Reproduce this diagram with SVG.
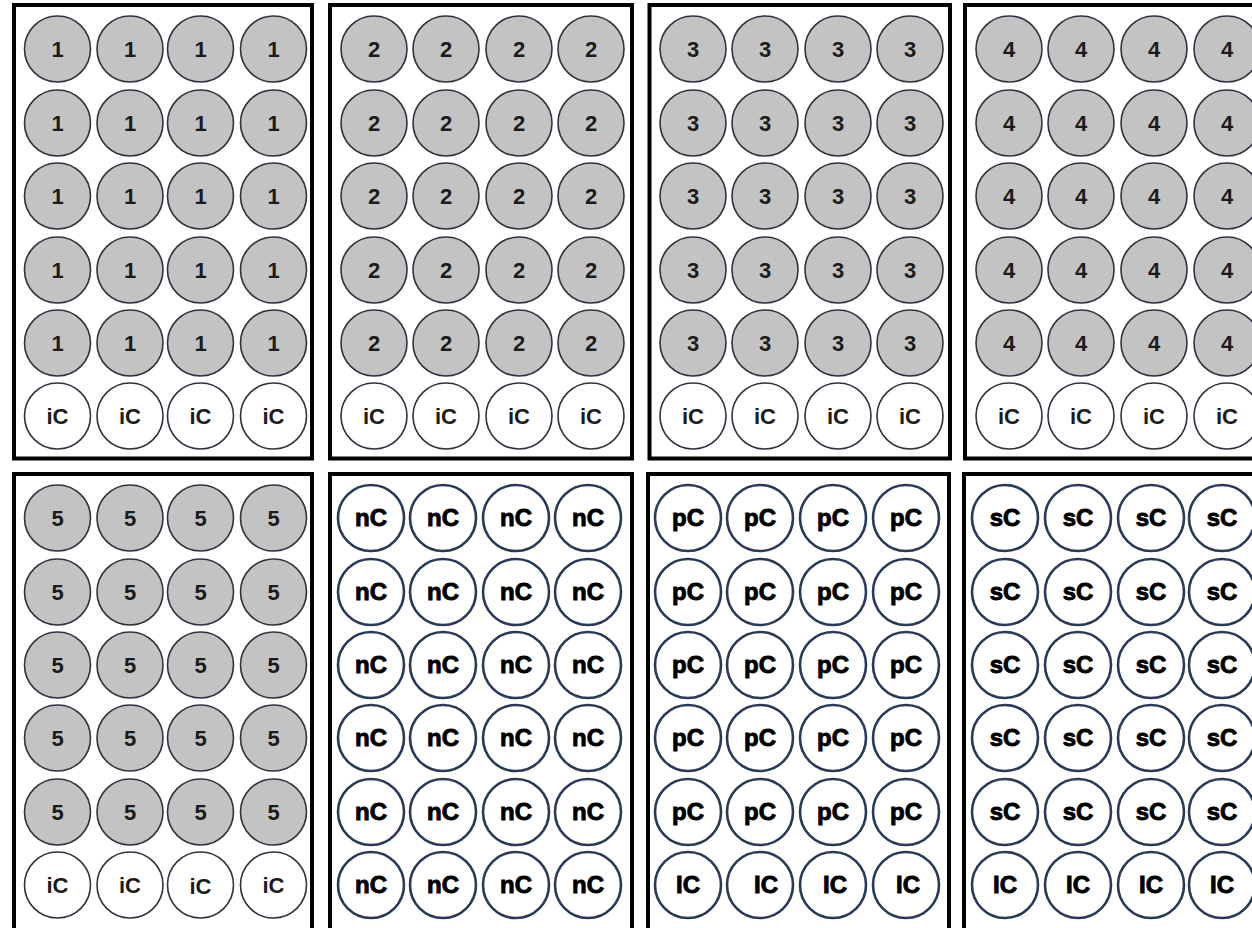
<svg xmlns="http://www.w3.org/2000/svg" width="1252" height="928" viewBox="0 0 1252 928">
<style>
.frame{fill:none;stroke:#000;stroke-width:4}
.gw{fill:#c3c3c3;stroke:#2e3340;stroke-width:1.6}
.ww{fill:#fff;stroke:#2e3340;stroke-width:1.6}
.cw{fill:#fff;stroke:#283a58;stroke-width:2.6}
.t{font-family:"Liberation Sans",Arial,sans-serif;font-weight:bold;font-size:22px;fill:#1b1b1b;text-anchor:middle}
.h{font-family:"Liberation Sans",Arial,sans-serif;font-weight:bold;font-size:24px;fill:#000;stroke:#000;stroke-width:0.9;text-anchor:middle}
</style>
<rect width="1252" height="928" fill="#fff"/>

<g id="plate1">
<rect class="frame" x="14" y="5" width="298" height="453.5"/>
<g id="p1w1" transform="translate(57.5,49)"><circle r="33" class="gw"/><text y="8" class="t">1</text></g>
<g id="p1w2" transform="translate(130,49)"><circle r="33" class="gw"/><text y="8" class="t">1</text></g>
<g id="p1w3" transform="translate(200.5,49)"><circle r="33" class="gw"/><text y="8" class="t">1</text></g>
<g id="p1w4" transform="translate(273.5,49)"><circle r="33" class="gw"/><text y="8" class="t">1</text></g>
<g id="p1w5" transform="translate(57.5,123)"><circle r="33" class="gw"/><text y="8" class="t">1</text></g>
<g id="p1w6" transform="translate(130,123)"><circle r="33" class="gw"/><text y="8" class="t">1</text></g>
<g id="p1w7" transform="translate(200.5,123)"><circle r="33" class="gw"/><text y="8" class="t">1</text></g>
<g id="p1w8" transform="translate(273.5,123)"><circle r="33" class="gw"/><text y="8" class="t">1</text></g>
<g id="p1w9" transform="translate(57.5,196)"><circle r="33" class="gw"/><text y="8" class="t">1</text></g>
<g id="p1w10" transform="translate(130,196)"><circle r="33" class="gw"/><text y="8" class="t">1</text></g>
<g id="p1w11" transform="translate(200.5,196)"><circle r="33" class="gw"/><text y="8" class="t">1</text></g>
<g id="p1w12" transform="translate(273.5,196)"><circle r="33" class="gw"/><text y="8" class="t">1</text></g>
<g id="p1w13" transform="translate(57.5,270)"><circle r="33" class="gw"/><text y="8" class="t">1</text></g>
<g id="p1w14" transform="translate(130,270)"><circle r="33" class="gw"/><text y="8" class="t">1</text></g>
<g id="p1w15" transform="translate(200.5,270)"><circle r="33" class="gw"/><text y="8" class="t">1</text></g>
<g id="p1w16" transform="translate(273.5,270)"><circle r="33" class="gw"/><text y="8" class="t">1</text></g>
<g id="p1w17" transform="translate(57.5,343)"><circle r="33" class="gw"/><text y="8" class="t">1</text></g>
<g id="p1w18" transform="translate(130,343)"><circle r="33" class="gw"/><text y="8" class="t">1</text></g>
<g id="p1w19" transform="translate(200.5,343)"><circle r="33" class="gw"/><text y="8" class="t">1</text></g>
<g id="p1w20" transform="translate(273.5,343)"><circle r="33" class="gw"/><text y="8" class="t">1</text></g>
<g id="p1w21" transform="translate(57.5,416)"><circle r="33" class="ww"/><text y="8" class="t">iC</text></g>
<g id="p1w22" transform="translate(130,416)"><circle r="33" class="ww"/><text y="8" class="t">iC</text></g>
<g id="p1w23" transform="translate(200.5,416)"><circle r="33" class="ww"/><text y="8" class="t">iC</text></g>
<g id="p1w24" transform="translate(273.5,416)"><circle r="33" class="ww"/><text y="8" class="t">iC</text></g>
</g>

<g id="plate2">
<rect class="frame" x="330" y="5" width="302" height="453.5"/>
<g id="p2w1" transform="translate(374,49)"><circle r="33" class="gw"/><text y="8" class="t">2</text></g>
<g id="p2w2" transform="translate(446,49)"><circle r="33" class="gw"/><text y="8" class="t">2</text></g>
<g id="p2w3" transform="translate(519,49)"><circle r="33" class="gw"/><text y="8" class="t">2</text></g>
<g id="p2w4" transform="translate(591,49)"><circle r="33" class="gw"/><text y="8" class="t">2</text></g>
<g id="p2w5" transform="translate(374,123)"><circle r="33" class="gw"/><text y="8" class="t">2</text></g>
<g id="p2w6" transform="translate(446,123)"><circle r="33" class="gw"/><text y="8" class="t">2</text></g>
<g id="p2w7" transform="translate(519,123)"><circle r="33" class="gw"/><text y="8" class="t">2</text></g>
<g id="p2w8" transform="translate(591,123)"><circle r="33" class="gw"/><text y="8" class="t">2</text></g>
<g id="p2w9" transform="translate(374,196)"><circle r="33" class="gw"/><text y="8" class="t">2</text></g>
<g id="p2w10" transform="translate(446,196)"><circle r="33" class="gw"/><text y="8" class="t">2</text></g>
<g id="p2w11" transform="translate(519,196)"><circle r="33" class="gw"/><text y="8" class="t">2</text></g>
<g id="p2w12" transform="translate(591,196)"><circle r="33" class="gw"/><text y="8" class="t">2</text></g>
<g id="p2w13" transform="translate(374,270)"><circle r="33" class="gw"/><text y="8" class="t">2</text></g>
<g id="p2w14" transform="translate(446,270)"><circle r="33" class="gw"/><text y="8" class="t">2</text></g>
<g id="p2w15" transform="translate(519,270)"><circle r="33" class="gw"/><text y="8" class="t">2</text></g>
<g id="p2w16" transform="translate(591,270)"><circle r="33" class="gw"/><text y="8" class="t">2</text></g>
<g id="p2w17" transform="translate(374,343)"><circle r="33" class="gw"/><text y="8" class="t">2</text></g>
<g id="p2w18" transform="translate(446,343)"><circle r="33" class="gw"/><text y="8" class="t">2</text></g>
<g id="p2w19" transform="translate(519,343)"><circle r="33" class="gw"/><text y="8" class="t">2</text></g>
<g id="p2w20" transform="translate(591,343)"><circle r="33" class="gw"/><text y="8" class="t">2</text></g>
<g id="p2w21" transform="translate(374,416)"><circle r="33" class="ww"/><text y="8" class="t">iC</text></g>
<g id="p2w22" transform="translate(446,416)"><circle r="33" class="ww"/><text y="8" class="t">iC</text></g>
<g id="p2w23" transform="translate(519,416)"><circle r="33" class="ww"/><text y="8" class="t">iC</text></g>
<g id="p2w24" transform="translate(591,416)"><circle r="33" class="ww"/><text y="8" class="t">iC</text></g>
</g>

<g id="plate3">
<rect class="frame" x="649.5" y="5" width="300.5" height="453.5"/>
<g id="p3w1" transform="translate(693,49)"><circle r="33" class="gw"/><text y="8" class="t">3</text></g>
<g id="p3w2" transform="translate(765,49)"><circle r="33" class="gw"/><text y="8" class="t">3</text></g>
<g id="p3w3" transform="translate(838,49)"><circle r="33" class="gw"/><text y="8" class="t">3</text></g>
<g id="p3w4" transform="translate(910,49)"><circle r="33" class="gw"/><text y="8" class="t">3</text></g>
<g id="p3w5" transform="translate(693,123)"><circle r="33" class="gw"/><text y="8" class="t">3</text></g>
<g id="p3w6" transform="translate(765,123)"><circle r="33" class="gw"/><text y="8" class="t">3</text></g>
<g id="p3w7" transform="translate(838,123)"><circle r="33" class="gw"/><text y="8" class="t">3</text></g>
<g id="p3w8" transform="translate(910,123)"><circle r="33" class="gw"/><text y="8" class="t">3</text></g>
<g id="p3w9" transform="translate(693,196)"><circle r="33" class="gw"/><text y="8" class="t">3</text></g>
<g id="p3w10" transform="translate(765,196)"><circle r="33" class="gw"/><text y="8" class="t">3</text></g>
<g id="p3w11" transform="translate(838,196)"><circle r="33" class="gw"/><text y="8" class="t">3</text></g>
<g id="p3w12" transform="translate(910,196)"><circle r="33" class="gw"/><text y="8" class="t">3</text></g>
<g id="p3w13" transform="translate(693,270)"><circle r="33" class="gw"/><text y="8" class="t">3</text></g>
<g id="p3w14" transform="translate(765,270)"><circle r="33" class="gw"/><text y="8" class="t">3</text></g>
<g id="p3w15" transform="translate(838,270)"><circle r="33" class="gw"/><text y="8" class="t">3</text></g>
<g id="p3w16" transform="translate(910,270)"><circle r="33" class="gw"/><text y="8" class="t">3</text></g>
<g id="p3w17" transform="translate(693,343)"><circle r="33" class="gw"/><text y="8" class="t">3</text></g>
<g id="p3w18" transform="translate(765,343)"><circle r="33" class="gw"/><text y="8" class="t">3</text></g>
<g id="p3w19" transform="translate(838,343)"><circle r="33" class="gw"/><text y="8" class="t">3</text></g>
<g id="p3w20" transform="translate(910,343)"><circle r="33" class="gw"/><text y="8" class="t">3</text></g>
<g id="p3w21" transform="translate(693,416)"><circle r="33" class="ww"/><text y="8" class="t">iC</text></g>
<g id="p3w22" transform="translate(765,416)"><circle r="33" class="ww"/><text y="8" class="t">iC</text></g>
<g id="p3w23" transform="translate(838,416)"><circle r="33" class="ww"/><text y="8" class="t">iC</text></g>
<g id="p3w24" transform="translate(910,416)"><circle r="33" class="ww"/><text y="8" class="t">iC</text></g>
</g>

<g id="plate4">
<rect class="frame" x="965" y="5" width="300" height="453.5"/>
<g id="p4w1" transform="translate(1009,49)"><circle r="33" class="gw"/><text y="8" class="t">4</text></g>
<g id="p4w2" transform="translate(1081,49)"><circle r="33" class="gw"/><text y="8" class="t">4</text></g>
<g id="p4w3" transform="translate(1154,49)"><circle r="33" class="gw"/><text y="8" class="t">4</text></g>
<g id="p4w4" transform="translate(1227,49)"><circle r="33" class="gw"/><text y="8" class="t">4</text></g>
<g id="p4w5" transform="translate(1009,123)"><circle r="33" class="gw"/><text y="8" class="t">4</text></g>
<g id="p4w6" transform="translate(1081,123)"><circle r="33" class="gw"/><text y="8" class="t">4</text></g>
<g id="p4w7" transform="translate(1154,123)"><circle r="33" class="gw"/><text y="8" class="t">4</text></g>
<g id="p4w8" transform="translate(1227,123)"><circle r="33" class="gw"/><text y="8" class="t">4</text></g>
<g id="p4w9" transform="translate(1009,196)"><circle r="33" class="gw"/><text y="8" class="t">4</text></g>
<g id="p4w10" transform="translate(1081,196)"><circle r="33" class="gw"/><text y="8" class="t">4</text></g>
<g id="p4w11" transform="translate(1154,196)"><circle r="33" class="gw"/><text y="8" class="t">4</text></g>
<g id="p4w12" transform="translate(1227,196)"><circle r="33" class="gw"/><text y="8" class="t">4</text></g>
<g id="p4w13" transform="translate(1009,270)"><circle r="33" class="gw"/><text y="8" class="t">4</text></g>
<g id="p4w14" transform="translate(1081,270)"><circle r="33" class="gw"/><text y="8" class="t">4</text></g>
<g id="p4w15" transform="translate(1154,270)"><circle r="33" class="gw"/><text y="8" class="t">4</text></g>
<g id="p4w16" transform="translate(1227,270)"><circle r="33" class="gw"/><text y="8" class="t">4</text></g>
<g id="p4w17" transform="translate(1009,343)"><circle r="33" class="gw"/><text y="8" class="t">4</text></g>
<g id="p4w18" transform="translate(1081,343)"><circle r="33" class="gw"/><text y="8" class="t">4</text></g>
<g id="p4w19" transform="translate(1154,343)"><circle r="33" class="gw"/><text y="8" class="t">4</text></g>
<g id="p4w20" transform="translate(1227,343)"><circle r="33" class="gw"/><text y="8" class="t">4</text></g>
<g id="p4w21" transform="translate(1009,416)"><circle r="33" class="ww"/><text y="8" class="t">iC</text></g>
<g id="p4w22" transform="translate(1081,416)"><circle r="33" class="ww"/><text y="8" class="t">iC</text></g>
<g id="p4w23" transform="translate(1154,416)"><circle r="33" class="ww"/><text y="8" class="t">iC</text></g>
<g id="p4w24" transform="translate(1227,416)"><circle r="33" class="ww"/><text y="8" class="t">iC</text></g>
</g>

<g id="plate5">
<rect class="frame" x="14" y="474" width="298" height="470"/>
<g id="p5w1" transform="translate(57.5,518)"><circle r="33" class="gw"/><text y="8" class="t">5</text></g>
<g id="p5w2" transform="translate(130,518)"><circle r="33" class="gw"/><text y="8" class="t">5</text></g>
<g id="p5w3" transform="translate(200.5,518)"><circle r="33" class="gw"/><text y="8" class="t">5</text></g>
<g id="p5w4" transform="translate(273.5,518)"><circle r="33" class="gw"/><text y="8" class="t">5</text></g>
<g id="p5w5" transform="translate(57.5,592)"><circle r="33" class="gw"/><text y="8" class="t">5</text></g>
<g id="p5w6" transform="translate(130,592)"><circle r="33" class="gw"/><text y="8" class="t">5</text></g>
<g id="p5w7" transform="translate(200.5,592)"><circle r="33" class="gw"/><text y="8" class="t">5</text></g>
<g id="p5w8" transform="translate(273.5,592)"><circle r="33" class="gw"/><text y="8" class="t">5</text></g>
<g id="p5w9" transform="translate(57.5,665)"><circle r="33" class="gw"/><text y="8" class="t">5</text></g>
<g id="p5w10" transform="translate(130,665)"><circle r="33" class="gw"/><text y="8" class="t">5</text></g>
<g id="p5w11" transform="translate(200.5,665)"><circle r="33" class="gw"/><text y="8" class="t">5</text></g>
<g id="p5w12" transform="translate(273.5,665)"><circle r="33" class="gw"/><text y="8" class="t">5</text></g>
<g id="p5w13" transform="translate(57.5,738)"><circle r="33" class="gw"/><text y="8" class="t">5</text></g>
<g id="p5w14" transform="translate(130,738)"><circle r="33" class="gw"/><text y="8" class="t">5</text></g>
<g id="p5w15" transform="translate(200.5,738)"><circle r="33" class="gw"/><text y="8" class="t">5</text></g>
<g id="p5w16" transform="translate(273.5,738)"><circle r="33" class="gw"/><text y="8" class="t">5</text></g>
<g id="p5w17" transform="translate(57.5,812)"><circle r="33" class="gw"/><text y="8" class="t">5</text></g>
<g id="p5w18" transform="translate(130,812)"><circle r="33" class="gw"/><text y="8" class="t">5</text></g>
<g id="p5w19" transform="translate(200.5,812)"><circle r="33" class="gw"/><text y="8" class="t">5</text></g>
<g id="p5w20" transform="translate(273.5,812)"><circle r="33" class="gw"/><text y="8" class="t">5</text></g>
<g id="p5w21" transform="translate(57.5,885)"><circle r="33" class="ww"/><text y="8" class="t">iC</text></g>
<g id="p5w22" transform="translate(130,885)"><circle r="33" class="ww"/><text y="8" class="t">iC</text></g>
<g id="p5w23" transform="translate(200.5,885)"><circle r="33" class="ww"/><text y="9" class="t">iC</text></g>
<g id="p5w24" transform="translate(273.5,885)"><circle r="33" class="ww"/><text y="8" class="t">iC</text></g>
</g>

<g id="plate6">
<rect class="frame" x="330" y="474" width="302" height="470"/>
<g id="p6w1" transform="translate(371,518)"><circle r="33" class="cw"/><text y="8" class="h">nC</text></g>
<g id="p6w2" transform="translate(443,518)"><circle r="33" class="cw"/><text y="8" class="h">nC</text></g>
<g id="p6w3" transform="translate(516,518)"><circle r="33" class="cw"/><text y="8" class="h">nC</text></g>
<g id="p6w4" transform="translate(588,518)"><circle r="33" class="cw"/><text y="8" class="h">nC</text></g>
<g id="p6w5" transform="translate(371,592)"><circle r="33" class="cw"/><text y="8" class="h">nC</text></g>
<g id="p6w6" transform="translate(443,592)"><circle r="33" class="cw"/><text y="8" class="h">nC</text></g>
<g id="p6w7" transform="translate(516,592)"><circle r="33" class="cw"/><text y="8" class="h">nC</text></g>
<g id="p6w8" transform="translate(588,592)"><circle r="33" class="cw"/><text y="8" class="h">nC</text></g>
<g id="p6w9" transform="translate(371,665)"><circle r="33" class="cw"/><text y="8" class="h">nC</text></g>
<g id="p6w10" transform="translate(443,665)"><circle r="33" class="cw"/><text y="8" class="h">nC</text></g>
<g id="p6w11" transform="translate(516,665)"><circle r="33" class="cw"/><text y="8" class="h">nC</text></g>
<g id="p6w12" transform="translate(588,665)"><circle r="33" class="cw"/><text y="8" class="h">nC</text></g>
<g id="p6w13" transform="translate(371,738)"><circle r="33" class="cw"/><text y="8" class="h">nC</text></g>
<g id="p6w14" transform="translate(443,738)"><circle r="33" class="cw"/><text y="8" class="h">nC</text></g>
<g id="p6w15" transform="translate(516,738)"><circle r="33" class="cw"/><text y="8" class="h">nC</text></g>
<g id="p6w16" transform="translate(588,738)"><circle r="33" class="cw"/><text y="8" class="h">nC</text></g>
<g id="p6w17" transform="translate(371,812)"><circle r="33" class="cw"/><text y="8" class="h">nC</text></g>
<g id="p6w18" transform="translate(443,812)"><circle r="33" class="cw"/><text y="8" class="h">nC</text></g>
<g id="p6w19" transform="translate(516,812)"><circle r="33" class="cw"/><text y="8" class="h">nC</text></g>
<g id="p6w20" transform="translate(588,812)"><circle r="33" class="cw"/><text y="8" class="h">nC</text></g>
<g id="p6w21" transform="translate(371,885)"><circle r="33" class="cw"/><text y="8" class="h">nC</text></g>
<g id="p6w22" transform="translate(443,885)"><circle r="33" class="cw"/><text y="8" class="h">nC</text></g>
<g id="p6w23" transform="translate(516,885)"><circle r="33" class="cw"/><text y="8" class="h">nC</text></g>
<g id="p6w24" transform="translate(588,885)"><circle r="33" class="cw"/><text y="8" class="h">nC</text></g>
</g>

<g id="plate7">
<rect class="frame" x="648" y="474" width="301" height="470"/>
<g id="p7w1" transform="translate(688,518)"><circle r="33" class="cw"/><text y="8" class="h">pC</text></g>
<g id="p7w2" transform="translate(760,518)"><circle r="33" class="cw"/><text y="8" class="h">pC</text></g>
<g id="p7w3" transform="translate(833,518)"><circle r="33" class="cw"/><text y="8" class="h">pC</text></g>
<g id="p7w4" transform="translate(906,518)"><circle r="33" class="cw"/><text y="8" class="h">pC</text></g>
<g id="p7w5" transform="translate(688,592)"><circle r="33" class="cw"/><text y="8" class="h">pC</text></g>
<g id="p7w6" transform="translate(760,592)"><circle r="33" class="cw"/><text y="8" class="h">pC</text></g>
<g id="p7w7" transform="translate(833,592)"><circle r="33" class="cw"/><text y="8" class="h">pC</text></g>
<g id="p7w8" transform="translate(906,592)"><circle r="33" class="cw"/><text y="8" class="h">pC</text></g>
<g id="p7w9" transform="translate(688,665)"><circle r="33" class="cw"/><text y="8" class="h">pC</text></g>
<g id="p7w10" transform="translate(760,665)"><circle r="33" class="cw"/><text y="8" class="h">pC</text></g>
<g id="p7w11" transform="translate(833,665)"><circle r="33" class="cw"/><text y="8" class="h">pC</text></g>
<g id="p7w12" transform="translate(906,665)"><circle r="33" class="cw"/><text y="8" class="h">pC</text></g>
<g id="p7w13" transform="translate(688,738)"><circle r="33" class="cw"/><text y="8" class="h">pC</text></g>
<g id="p7w14" transform="translate(760,738)"><circle r="33" class="cw"/><text y="8" class="h">pC</text></g>
<g id="p7w15" transform="translate(833,738)"><circle r="33" class="cw"/><text y="8" class="h">pC</text></g>
<g id="p7w16" transform="translate(906,738)"><circle r="33" class="cw"/><text y="8" class="h">pC</text></g>
<g id="p7w17" transform="translate(688,812)"><circle r="33" class="cw"/><text y="8" class="h">pC</text></g>
<g id="p7w18" transform="translate(760,812)"><circle r="33" class="cw"/><text y="8" class="h">pC</text></g>
<g id="p7w19" transform="translate(833,812)"><circle r="33" class="cw"/><text y="8" class="h">pC</text></g>
<g id="p7w20" transform="translate(906,812)"><circle r="33" class="cw"/><text y="8" class="h">pC</text></g>
<g id="p7w21" transform="translate(688,885)"><circle r="33" class="cw"/><text y="8" class="h">IC</text></g>
<g id="p7w22" transform="translate(760,885)"><circle r="33" class="cw"/><text x="6" y="8" class="h">IC</text></g>
<g id="p7w23" transform="translate(833,885)"><circle r="33" class="cw"/><text x="2" y="8" class="h">IC</text></g>
<g id="p7w24" transform="translate(906,885)"><circle r="33" class="cw"/><text x="2" y="8" class="h">IC</text></g>
</g>

<g id="plate8">
<rect class="frame" x="964" y="474" width="301" height="470"/>
<g id="p8w1" transform="translate(1005,518)"><circle r="33" class="cw"/><text y="8" class="h">sC</text></g>
<g id="p8w2" transform="translate(1078,518)"><circle r="33" class="cw"/><text y="8" class="h">sC</text></g>
<g id="p8w3" transform="translate(1151,518)"><circle r="33" class="cw"/><text y="8" class="h">sC</text></g>
<g id="p8w4" transform="translate(1222,518)"><circle r="33" class="cw"/><text y="8" class="h">sC</text></g>
<g id="p8w5" transform="translate(1005,592)"><circle r="33" class="cw"/><text y="8" class="h">sC</text></g>
<g id="p8w6" transform="translate(1078,592)"><circle r="33" class="cw"/><text y="8" class="h">sC</text></g>
<g id="p8w7" transform="translate(1151,592)"><circle r="33" class="cw"/><text y="8" class="h">sC</text></g>
<g id="p8w8" transform="translate(1222,592)"><circle r="33" class="cw"/><text y="8" class="h">sC</text></g>
<g id="p8w9" transform="translate(1005,665)"><circle r="33" class="cw"/><text y="8" class="h">sC</text></g>
<g id="p8w10" transform="translate(1078,665)"><circle r="33" class="cw"/><text y="8" class="h">sC</text></g>
<g id="p8w11" transform="translate(1151,665)"><circle r="33" class="cw"/><text y="8" class="h">sC</text></g>
<g id="p8w12" transform="translate(1222,665)"><circle r="33" class="cw"/><text y="8" class="h">sC</text></g>
<g id="p8w13" transform="translate(1005,738)"><circle r="33" class="cw"/><text y="8" class="h">sC</text></g>
<g id="p8w14" transform="translate(1078,738)"><circle r="33" class="cw"/><text y="8" class="h">sC</text></g>
<g id="p8w15" transform="translate(1151,738)"><circle r="33" class="cw"/><text y="8" class="h">sC</text></g>
<g id="p8w16" transform="translate(1222,738)"><circle r="33" class="cw"/><text y="8" class="h">sC</text></g>
<g id="p8w17" transform="translate(1005,812)"><circle r="33" class="cw"/><text y="8" class="h">sC</text></g>
<g id="p8w18" transform="translate(1078,812)"><circle r="33" class="cw"/><text y="8" class="h">sC</text></g>
<g id="p8w19" transform="translate(1151,812)"><circle r="33" class="cw"/><text y="8" class="h">sC</text></g>
<g id="p8w20" transform="translate(1222,812)"><circle r="33" class="cw"/><text y="8" class="h">sC</text></g>
<g id="p8w21" transform="translate(1005,885)"><circle r="33" class="cw"/><text y="8" class="h">IC</text></g>
<g id="p8w22" transform="translate(1078,885)"><circle r="33" class="cw"/><text y="8" class="h">IC</text></g>
<g id="p8w23" transform="translate(1151,885)"><circle r="33" class="cw"/><text y="8" class="h">IC</text></g>
<g id="p8w24" transform="translate(1222,885)"><circle r="33" class="cw"/><text y="8" class="h">IC</text></g>
</g>

<g id="connectors"></g>
</svg>
